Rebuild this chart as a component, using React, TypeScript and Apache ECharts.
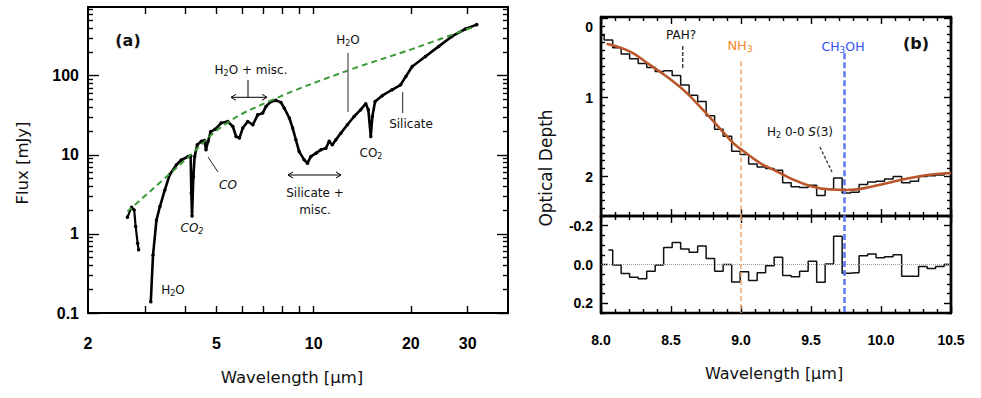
import React, { useEffect, useRef } from "react";
import * as echarts from "echarts";

// ---------- Panel (a): spectrum (wavelength in μm, flux in mJy) ----------
const seg1Wave = [2.65, 2.73, 2.78, 2.81, 2.85, 2.87];
const seg1Flux = [1.63, 2.18, 2.01, 1.24, 0.76, 0.63];
const seg2Wave = [3.13, 3.18, 3.26, 3.34, 3.46, 3.58, 3.76, 3.89, 4.08, 4.16, 4.18, 4.2, 4.24, 4.28, 4.36, 4.49, 4.59, 4.64, 4.71, 4.8, 4.95, 5.17, 5.42, 5.62, 5.75, 5.89, 6.03, 6.25, 6.48, 6.71, 6.95, 7.12, 7.38, 7.64, 7.92, 8.11, 8.41, 8.61, 8.81, 9.02, 9.35, 9.57, 9.8, 10.17, 10.53, 10.91, 11.17, 11.43, 11.72, 12.14, 12.72, 13.34, 13.99, 14.5, 14.77, 15.03, 15.2, 15.5, 16.3, 17.5, 18.6, 19.3, 20.2, 22.2, 24.4, 26.8, 29.5, 32.0];
const seg2Flux = [0.139, 0.54, 1.5, 2.22, 3.6, 5.6, 7.5, 8.6, 9.5, 9.7, 3.3, 1.69, 5.3, 9.5, 13.4, 14.8, 15.2, 11.6, 14.8, 19.7, 21, 25.2, 26.4, 22.8, 17.1, 16.3, 21.8, 26.4, 24.0, 32, 33.7, 40.9, 47.3, 48.8, 46, 38.9, 29.2, 21.8, 15.5, 11.0, 8.65, 7.85, 9.5, 10.5, 11.6, 12.1, 14.8, 13.4, 15.5, 18.8, 24.0, 30.5, 37.2, 44.3, 37.2, 17.1, 30.5, 47.3, 55.9, 66.5, 76.9, 98, 131, 175, 235, 314, 390, 443];
// continuum (green dashed)
const contWave = [2.65, 4.0, 5.29, 7.46, 12.72, 20.6, 31.6];
const contFlux = [1.92, 8.6, 24, 49.6, 115.7, 224, 421];

const leftXLabels = [2, 5, 10, 20, 30];
const leftXTicks = [3, 4, 5, 6, 7, 8, 9, 10, 20, 30];
const leftYLabels = [0.1, 1, 10, 100];
const leftXRange = [2, 40];
const leftYRange = [0.1, 740];

// ---------- Panel (b): optical depth ----------
const binWave = [7.992, 8.053, 8.114, 8.174, 8.235, 8.296, 8.357, 8.417, 8.478, 8.539, 8.599, 8.66, 8.721, 8.781, 8.842, 8.903, 8.964, 9.024, 9.085, 9.146, 9.206, 9.267, 9.328, 9.388, 9.449, 9.51, 9.571, 9.631, 9.692, 9.753, 9.813, 9.874, 9.935, 9.995, 10.056, 10.117, 10.178, 10.238, 10.299, 10.36, 10.42, 10.481];
const binDepth = [0.21, 0.27, 0.37, 0.45, 0.51, 0.57, 0.62, 0.67, 0.66, 0.72, 0.84, 0.97, 1.05, 1.23, 1.4, 1.49, 1.68, 1.72, 1.84, 1.88, 1.9, 1.92, 2.08, 2.13, 2.14, 2.11, 2.24, 2.16, 2.02, 2.21, 2.2, 2.1, 2.07, 2.06, 2.03, 2.0, 2.08, 2.06, 2.0, 1.99, 1.98, 1.96];
const fitWave = [8.04, 8.207, 8.35, 8.469, 8.588, 8.707, 8.826, 8.945, 9.005, 9.136, 9.207, 9.279, 9.35, 9.493, 9.636, 9.755, 9.874, 10.04, 10.207, 10.35, 10.5];
const fitDepth = [0.32, 0.418, 0.587, 0.734, 0.903, 1.114, 1.346, 1.578, 1.662, 1.831, 1.894, 1.955, 2.02, 2.12, 2.165, 2.17, 2.15, 2.084, 2.02, 1.978, 1.955];
const residWave = [8.053, 8.114, 8.174, 8.235, 8.296, 8.357, 8.417, 8.478, 8.539, 8.599, 8.66, 8.721, 8.781, 8.842, 8.903, 8.964, 9.024, 9.085, 9.146, 9.206, 9.267, 9.328, 9.388, 9.449, 9.51, 9.571, 9.631, 9.692, 9.753, 9.813, 9.874, 9.935, 9.995, 10.056, 10.117, 10.178, 10.238, 10.299, 10.36, 10.42, 10.481];
const residVal = [-0.075, 0.003, 0.047, 0.066, 0.073, 0.035, 0.003, -0.087, -0.113, -0.08, -0.063, -0.096, -0.031, 0.035, 0.0, 0.09, 0.038, 0.083, 0.042, 0.007, -0.038, 0.057, 0.063, 0.035, -0.017, 0.092, -0.003, -0.146, 0.045, 0.042, -0.045, -0.054, -0.035, -0.04, -0.05, 0.061, 0.061, 0.01, 0.021, 0.01, 0.0];

const rightXRange = [8, 10.5];
const depthRange = [-0.02, 2.5];
const depthLabels = [0, 1, 2];
const residRange = [-0.25, 0.25];
const residLabels = [-0.2, 0, 0.2];
const residMinor = [-0.25, -0.15, -0.1, -0.05, 0.05, 0.1, 0.15, 0.25];
const nh3Wave = 9.0;
const ch3ohWave = 9.74;

// ---------- helpers ----------
const LOG = (v: number) => Math.log10(v);
const tickFont = "'Liberation Sans', Arial, sans-serif";
const annFont = "'DejaVu Sans', sans-serif";
const TICK = "#000000";

const leftYMinor: number[] = [];
[0.1, 1, 10, 100].forEach((d) => {
  [2, 3, 4, 5, 6, 7, 8, 9].forEach((m) => {
    const v = Math.round(d * m * 1000) / 1000;
    if (v < leftYRange[1]) leftYMinor.push(LOG(v));
  });
});
const depthMinor: number[] = [];
for (let k = 1; k <= 24; k++) {
  if (k % 10 !== 0) depthMinor.push(k / 10);
}

const frame = (w: number) => ({ show: true, onZero: false, lineStyle: { color: "#000", width: w } });
const tickStyle = () => ({ color: TICK, width: 1.4 });
const labelBase = { color: "#000", fontFamily: tickFont, fontWeight: "bold" as const };

function logX(position: "bottom" | "top", showLabel: boolean) {
  return {
    type: "value",
    gridIndex: 0,
    position,
    min: LOG(leftXRange[0]),
    max: LOG(leftXRange[1]),
    axisLine: frame(2),
    axisTick: { show: true, inside: true, length: 7, lineStyle: tickStyle(), customValues: leftXTicks.map(LOG) },
    axisLabel: showLabel
      ? { show: true, customValues: leftXLabels.map(LOG), formatter: (v: number) => String(Math.round(Math.pow(10, v))), margin: 22, fontSize: 16, ...labelBase }
      : { show: false },
    splitLine: { show: false },
  };
}
function linX(gridIndex: number, position: "bottom" | "top", showLabel: boolean) {
  return {
    type: "value",
    gridIndex,
    position,
    min: rightXRange[0],
    max: rightXRange[1],
    interval: 0.5,
    axisLine: frame(2.4),
    axisTick: { show: true, inside: true, length: 7, lineStyle: tickStyle() },
    minorTick: { show: true, splitNumber: 5, length: 4, lineStyle: tickStyle() },
    axisLabel: showLabel ? { show: true, formatter: (v: number) => v.toFixed(1), margin: 20, fontSize: 14, ...labelBase } : { show: false },
    splitLine: { show: false },
  };
}
function yAx(gridIndex: number, position: "left" | "right", range: number[], inverse: boolean, ticks: number[], length: number, label: any, w: number) {
  return {
    type: "value",
    gridIndex,
    position,
    min: range[0],
    max: range[1],
    inverse,
    axisLine: frame(w),
    axisTick: { show: true, inside: true, length, lineStyle: tickStyle(), customValues: ticks },
    axisLabel: label ? label : { show: false },
    splitLine: { show: false },
  };
}

const leftYLabel = {
  show: true,
  customValues: leftYLabels.map(LOG),
  formatter: (v: number) => String(Math.round(Math.pow(10, v) * 10) / 10),
  margin: 9,
  fontSize: 16,
  ...labelBase,
};
const depthLabel = {
  show: true,
  customValues: depthLabels,
  formatter: (v: number) => (v === 0 ? "{z|0}" : "{n|" + v + "}"),
  margin: 8,
  fontSize: 14,
  ...labelBase,
  rich: {
    z: { fontSize: 14, fontWeight: "bold", fontFamily: tickFont, color: "#000", padding: [16, 0, 0, 0] },
    n: { fontSize: 14, fontWeight: "bold", fontFamily: tickFont, color: "#000" },
  },
};
const residLabel = {
  show: true,
  customValues: residLabels,
  formatter: (v: number) => v.toFixed(1),
  margin: 8,
  fontSize: 14,
  ...labelBase,
};

function txt(x: number, y: number, text: string, o: any = {}) {
  const size = o.size || 12;
  const fill = o.fill || "#111";
  const style = o.italic ? "italic" : "normal";
  return {
    type: "text",
    x,
    y,
    rotation: o.rot || 0,
    silent: true,
    z: 100,
    style: {
      text,
      fill,
      fontSize: size,
      fontFamily: annFont,
      fontWeight: o.bold ? "bold" : "normal",
      fontStyle: style,
      align: "center",
      verticalAlign: "middle",
      rich: {
        n: { fontSize: size, fontFamily: annFont, fill, fontStyle: style },
        i: { fontSize: size, fontFamily: annFont, fill, fontStyle: "italic" },
        s: { fontSize: Math.round(size * 0.7), fontFamily: annFont, fill, fontStyle: style, padding: [7, 0, 0, 0] },
      },
    },
  };
}
function seg(x1: number, y1: number, x2: number, y2: number, stroke = "#000", lineWidth = 1, lineDash?: number[]) {
  return { type: "line", silent: true, z: 100, shape: { x1, y1, x2, y2 }, style: { stroke, lineWidth, lineDash } };
}
function head(points: number[][]) {
  return { type: "polyline", silent: true, z: 100, shape: { points }, style: { stroke: "#000", lineWidth: 1, fill: "none" } };
}

const zip = (a: number[], b: number[], fx = (v: number) => v, fy = (v: number) => v) => a.map((v, i) => [fx(v), fy(b[i])]);

export default function App() {
  const ref = useRef<HTMLDivElement>(null);
  useEffect(() => {
    const chart = echarts.init(ref.current!, null, { renderer: "svg" });
    const option: any = {
      animation: false,
      backgroundColor: "#fff",
      grid: [
        { left: 88, top: 7, width: 420, height: 306 },
        { left: 601, top: 17, width: 350, height: 199 },
        { left: 601, top: 216, width: 350, height: 97 },
      ],
      xAxis: [logX("bottom", true), logX("top", false), linX(1, "bottom", false), linX(1, "top", false), linX(2, "bottom", true), linX(2, "top", false)],
      yAxis: [
        yAx(0, "left", leftYRange.map(LOG), false, leftYLabels.map(LOG), 11, leftYLabel, 2),
        yAx(0, "left", leftYRange.map(LOG), false, leftYMinor, 5, null, 2),
        yAx(0, "right", leftYRange.map(LOG), false, leftYLabels.map(LOG), 11, null, 2),
        yAx(0, "right", leftYRange.map(LOG), false, leftYMinor, 5, null, 2),
        yAx(1, "left", depthRange, true, depthLabels, 7, depthLabel, 2.4),
        yAx(1, "left", depthRange, true, depthMinor, 4, null, 2.4),
        yAx(1, "right", depthRange, true, depthLabels, 7, null, 2.4),
        yAx(1, "right", depthRange, true, depthMinor, 4, null, 2.4),
        yAx(2, "left", residRange, true, residLabels, 7, residLabel, 2.4),
        yAx(2, "left", residRange, true, residMinor, 4, null, 2.4),
        yAx(2, "right", residRange, true, residLabels, 7, null, 2.4),
        yAx(2, "right", residRange, true, residMinor, 4, null, 2.4),
      ],
      series: [
        {
          type: "line",
          xAxisIndex: 0,
          yAxisIndex: 0,
          data: zip(seg1Wave, seg1Flux, LOG, LOG),
          lineStyle: { color: "#000", width: 2.2 },
          itemStyle: { color: "#000" },
          symbol: "circle",
          symbolSize: 3.5,
          showAllSymbol: true,
          z: 5,
        },
        {
          type: "line",
          xAxisIndex: 0,
          yAxisIndex: 0,
          data: zip(seg2Wave, seg2Flux, LOG, LOG),
          lineStyle: { color: "#000", width: 2.6 },
          itemStyle: { color: "#000" },
          symbol: "circle",
          symbolSize: 3.5,
          showAllSymbol: true,
          z: 5,
        },
        {
          type: "line",
          xAxisIndex: 0,
          yAxisIndex: 0,
          data: zip(contWave, contFlux, LOG, LOG),
          smooth: 0.4,
          showSymbol: false,
          lineStyle: { color: "#3a9a35", width: 2, type: [6, 4] },
          z: 6,
        },
        {
          type: "line",
          xAxisIndex: 2,
          yAxisIndex: 4,
          step: "middle",
          data: zip(binWave, binDepth),
          showSymbol: false,
          lineStyle: { color: "#111", width: 1.5 },
          z: 4,
          markLine: {
            silent: true,
            symbol: ["none", "none"],
            label: { show: false },
            data: [
              [
                { coord: [nh3Wave, 0.54], lineStyle: { color: "#f5a25e", width: 1.5, type: [5, 3] } },
                { coord: [nh3Wave, depthRange[1]] },
              ],
              [
                { coord: [ch3ohWave, 0.44], lineStyle: { color: "#5a78f2", width: 2.5, type: [6, 3] } },
                { coord: [ch3ohWave, depthRange[1]] },
              ],
            ],
          },
        },
        {
          type: "line",
          xAxisIndex: 2,
          yAxisIndex: 4,
          data: zip(fitWave, fitDepth),
          smooth: 0.4,
          showSymbol: false,
          lineStyle: { color: "#b9572b", width: 2.6 },
          z: 6,
        },
        {
          type: "line",
          xAxisIndex: 4,
          yAxisIndex: 8,
          step: "middle",
          data: zip(residWave, residVal),
          showSymbol: false,
          lineStyle: { color: "#111", width: 1.5 },
          z: 4,
          markLine: {
            silent: true,
            symbol: ["none", "none"],
            label: { show: false },
            data: [
              { yAxis: 0, lineStyle: { color: "#9a9a9a", width: 1, type: "dotted" } },
              [
                { coord: [nh3Wave, residRange[0]], lineStyle: { color: "#f5a25e", width: 1.5, type: [5, 3] } },
                { coord: [nh3Wave, residRange[1]] },
              ],
              [
                { coord: [ch3ohWave, residRange[0]], lineStyle: { color: "#5a78f2", width: 2.5, type: [6, 3] } },
                { coord: [ch3ohWave, residRange[1]] },
              ],
            ],
          },
        },
      ],
      graphic: [
        // axis titles
        txt(292, 377, "Wavelength [μm]", { size: 16.5 }),
        txt(774, 373, "Wavelength [μm]", { size: 16 }),
        txt(22, 163, "Flux [mJy]", { size: 16.5 }),
        txt(546, 168, "Optical Depth", { size: 17 }),
        // panel (a) annotations
        txt(128, 40, "(a)", { size: 16, bold: true }),
        txt(251, 70, "{n|H}{s|2}{n|O + misc.}", { size: 12 }),
        seg(231, 97.3, 267, 97.3),
        head([[236, 94.3], [231, 97.3], [236, 100.3]]),
        head([[262, 94.3], [267, 97.3], [262, 100.3]]),
        seg(248, 80, 248, 97.3),
        txt(348, 40, "{n|H}{s|2}{n|O}", { size: 12 }),
        seg(348, 53, 348, 112, "#7a7a7a", 1.6),
        txt(411, 124, "Silicate", { size: 12 }),
        seg(402.7, 92, 402.7, 113, "#222", 1),
        txt(371, 153, "{n|CO}{s|2}", { size: 12 }),
        txt(315, 193, "Silicate +", { size: 12 }),
        txt(315, 210, "misc.", { size: 12 }),
        seg(288, 175, 341, 175),
        head([[293, 172], [288, 175], [293, 178]]),
        head([[336, 172], [341, 175], [336, 178]]),
        seg(208, 157, 218, 172, "#222", 1),
        txt(228, 185, "CO", { size: 12, italic: true }),
        txt(192, 228, "{n|CO}{s|2}", { size: 12, italic: true }),
        txt(173, 290, "{n|H}{s|2}{n|O}", { size: 12 }),
        // panel (b) annotations
        txt(681, 35, "PAH?", { size: 12 }),
        seg(682.7, 46, 682.7, 68, "#444", 1.5, [4, 2]),
        txt(740, 45, "{n|NH}{s|3}", { size: 13, fill: "#f5872d" }),
        txt(843, 46, "{n|CH}{s|3}{n|OH}", { size: 12.5, fill: "#2f4ff0" }),
        txt(916, 43, "(b)", { size: 16, bold: true }),
        txt(800, 132, "{n|H}{s|2}{n| 0-0 }{i|S}{n|(3)}", { size: 12 }),
        seg(820, 147, 832, 172, "#333", 1.3, [3, 2]),
      ],
    };
    // rotate the two vertical titles
    option.graphic[2].rotation = Math.PI / 2;
    option.graphic[3].rotation = Math.PI / 2;
    chart.setOption(option);
    return () => chart.dispose();
  }, []);
  return <div ref={ref} style={{ position: "fixed", left: 0, top: 0, width: 981, height: 398, background: "#fff" }} />;
}
